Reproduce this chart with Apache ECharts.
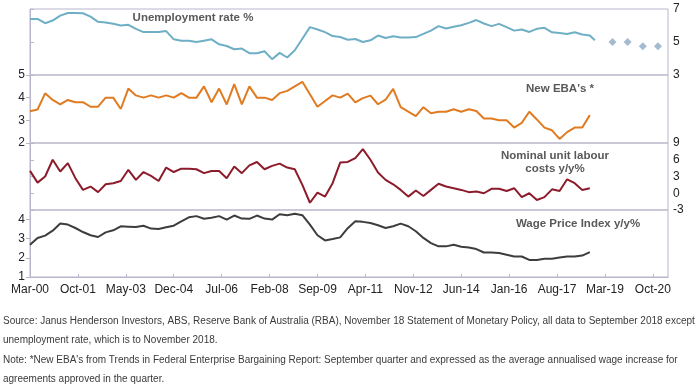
<!DOCTYPE html>
<html>
<head>
<meta charset="utf-8">
<script src="https://cdn.jsdelivr.net/npm/echarts@6/dist/echarts.min.js"></script>
<style>
html,body{margin:0;padding:0;background:#fff;}
#chart{width:700px;height:390px;}
</style>
</head>
<body>
<div id="chart"></div>
<script>
// ---------- DATA ----------
const monthNames = ['Jan','Feb','Mar','Apr','May','Jun','Jul','Aug','Sep','Oct','Nov','Dec'];
const tickLabels = ['Mar-00','Oct-01','May-03','Dec-04','Jul-06','Feb-08','Sep-09','Apr-11','Nov-12','Jun-14','Jan-16','Aug-17','Mar-19','Oct-20'];

// quarterly observations Mar-00 .. Sep-18 (75 quarters)
const unemploymentQ = [6.4,6.4,6.14,6.3,6.6,6.76,6.76,6.74,6.54,6.22,6.18,6.1,6.0,6.04,5.8,5.6,5.6,5.6,5.66,5.16,
  5.08,5.08,5.0,5.08,5.16,4.86,4.76,4.56,4.6,4.32,4.32,4.44,3.96,4.34,4.06,4.5,5.2,5.9,5.76,5.6,
  5.36,5.3,5.14,5.18,5.0,5.1,5.39,5.24,5.35,5.27,5.27,5.3,5.49,5.69,5.96,5.82,5.92,6.02,6.16,6.33,
  6.12,5.96,6.1,5.9,5.69,5.76,5.61,5.8,5.86,5.59,5.55,5.49,5.59,5.45,5.39];
const unemploymentLast = {date:'Nov-18', value:5.1};
const unemploymentForecastDates = ['Jun-19','Dec-19','Jun-20','Dec-20'];
const unemploymentForecast = [5.0,5.0,4.75,4.75];

const newEBA = [3.4,3.48,4.19,3.9,3.7,3.9,3.8,3.8,3.6,3.6,4.0,4.0,3.5,4.4,4.1,4.0,4.1,4.0,4.1,4.0,
  4.2,4.0,4.0,4.5,3.8,4.4,3.7,4.6,3.7,4.5,4.0,4.0,3.9,4.2,4.3,4.5,4.7,4.15,3.6,3.85,
  4.1,4.0,4.18,3.79,3.98,4.09,3.71,3.91,4.39,3.58,3.38,3.19,3.58,3.31,3.38,3.38,3.49,3.38,3.49,3.41,
  3.08,3.08,3.0,3.0,2.68,2.89,3.38,3.04,2.68,2.56,2.18,2.48,2.68,2.68,3.23];

const nominalULC = [4.0,1.9,3.0,6.0,3.9,5.4,2.7,0.6,1.2,0.2,1.6,1.8,2.2,4.2,2.4,3.8,3.1,2.2,4.6,3.8,
  4.4,4.4,4.3,3.6,4.0,4.0,2.7,4.8,3.6,5.0,5.6,4.3,4.9,5.3,4.6,4.3,1.5,-1.7,0.1,-0.6,
  1.8,5.5,5.6,6.3,7.9,6.0,3.7,2.4,1.6,0.6,-0.6,0.5,-0.5,0.6,1.7,1.2,0.9,0.6,0.2,0.3,
  0.0,0.8,0.8,0.4,0.9,-0.7,0.0,-1.2,-0.7,0.7,0.4,2.5,1.8,0.6,0.9];

const wpi = [2.68,3.04,3.16,3.42,3.79,3.74,3.56,3.35,3.18,3.09,3.33,3.44,3.65,3.63,3.61,3.68,3.53,3.51,3.6,3.68,
  3.91,4.12,4.18,4.04,4.09,4.18,4.0,4.21,4.05,4.04,4.21,4.05,4.0,4.28,4.23,4.3,4.23,3.74,3.18,2.91,
  2.98,3.07,3.55,3.91,3.88,3.82,3.7,3.56,3.65,3.79,3.65,3.39,3.04,2.77,2.6,2.6,2.68,2.58,2.54,2.46,
  2.28,2.28,2.25,2.16,2.07,2.07,1.89,1.89,1.95,1.95,2.02,2.07,2.07,2.12,2.3];

const titles = ['Unemployment rate %', "New EBA's *", 'Nominal unit labour\ncosts y/y%', 'Wage Price Index y/y%'];
const footnotes = [
  'Source: Janus Henderson Investors, ABS, Reserve Bank of Australia (RBA), November 18 Statement of Monetary Policy, all data to September 2018 except',
  'unemployment rate, which is to November 2018.',
  "Note: *New EBA's from Trends in Federal Enterprise Bargaining Report: September quarter and expressed as the average annualised wage increase for",
  'agreements approved in the quarter.'
];

// ---------- helpers ----------
function monthIndex(label){ // months since Mar-00
  const p = label.split('-');
  return (parseInt(p[1],10))*12 + monthNames.indexOf(p[0]) - 2;
}
function quarterLabel(i){
  const m = 2 + 3*i;
  const y = Math.floor(m/12);
  return monthNames[m%12] + '-' + String(y).padStart(2,'0');
}
function quarterly(values){ return values.map((v,i)=>[monthIndex(quarterLabel(i)), v]); }

const X_MAX = monthIndex('Apr-21');
const xTicks = tickLabels.map(monthIndex);

const BORDER = '#b9b5cc';
const FONT = 'Liberation Sans, Arial, sans-serif';

const grids = [
  {left:30, right:32, top:9,   height:66},
  {left:30, right:32, top:75,  height:68},
  {left:30, right:32, top:143, height:67},
  {left:30, right:32, top:210, height:67}
].map(g=>Object.assign({show:true, borderColor:BORDER, borderWidth:1, backgroundColor:'transparent'}, g));

const xAxes = grids.map((g,i)=>({
  type:'value', gridIndex:i, min:0, max:X_MAX,
  axisLine:{show:i===3, lineStyle:{color:BORDER}},
  axisTick:{show:i===3, inside:true, length:3, customValues:xTicks, lineStyle:{color:BORDER}},
  axisLabel:{show:i===3, customValues:xTicks, color:'#222', fontFamily:FONT, fontSize:12, margin:7,
    formatter:v=>{const k=xTicks.indexOf(Math.round(v)); return k>=0?tickLabels[k]:'';}},
  splitLine:{show:false}
}));

function yAxis(i, pos, min, max, ticks){
  return {type:'value', gridIndex:i, position:pos, min:min, max:max,
    axisLine:{show:true, lineStyle:{color:BORDER}},
    axisTick:{show:true, inside:false, length:4, customValues:ticks, lineStyle:{color:BORDER}},
    axisLabel:{show:true, customValues:ticks, color:'#222', fontFamily:FONT, fontSize:12, margin:5},
    splitLine:{show:false}};
}
const yAxes = [
  yAxis(0,'right',3,7,[3,5,7]),
  yAxis(1,'left',2,5,[2,3,4,5]),
  yAxis(2,'right',-3,9,[-3,0,3,6,9]),
  yAxis(3,'left',1,4.5,[1,2,3,4])
];

function line(i, data, color){
  return {type:'line', xAxisIndex:i, yAxisIndex:i, data:data, symbol:'none', smooth:false,
    lineStyle:{color:color, width:2}, itemStyle:{color:color}, animation:false, z:3};
}

const unempData = quarterly(unemploymentQ).concat([[monthIndex(unemploymentLast.date), unemploymentLast.value]]);
const forecastData = unemploymentForecastDates.map((d,i)=>[monthIndex(d), unemploymentForecast[i]]);

const titleStyle = {fontFamily:FONT, fontWeight:'bold', fontSize:11.5, fill:'#595959', align:'center', verticalAlign:'middle', lineHeight:13};
const titlePos = [[193,18],[560,89],[555,162],[578,224]];

const graphic = titles.map((t,i)=>({type:'text', x:titlePos[i][0], y:titlePos[i][1], z:10,
  style:Object.assign({text:t}, titleStyle)}))
.concat(footnotes.map((t,i)=>({type:'text', x:3, y:[321,340,360,379][i], z:10,
  style:{text:t, fontFamily:FONT, fontSize:10, fill:'#3a3a3a', align:'left', verticalAlign:'middle'}})));

const chart = echarts.init(document.getElementById('chart'), null, {renderer:'canvas'});
chart.setOption({
  animation:false,
  backgroundColor:'#fff',
  grid:grids,
  xAxis:xAxes,
  yAxis:yAxes,
  graphic:graphic,
  series:[
    line(0, unempData, '#6fafc5'),
    {type:'scatter', xAxisIndex:0, yAxisIndex:0, data:forecastData, symbol:'diamond', symbolSize:8,
      itemStyle:{color:'#8eaac4'}, animation:false, z:3},
    line(1, quarterly(newEBA), '#e07b22'),
    line(2, quarterly(nominalULC), '#8c1c2c'),
    line(3, quarterly(wpi), '#3d3d3d')
  ]
});
</script>
</body>
</html>
